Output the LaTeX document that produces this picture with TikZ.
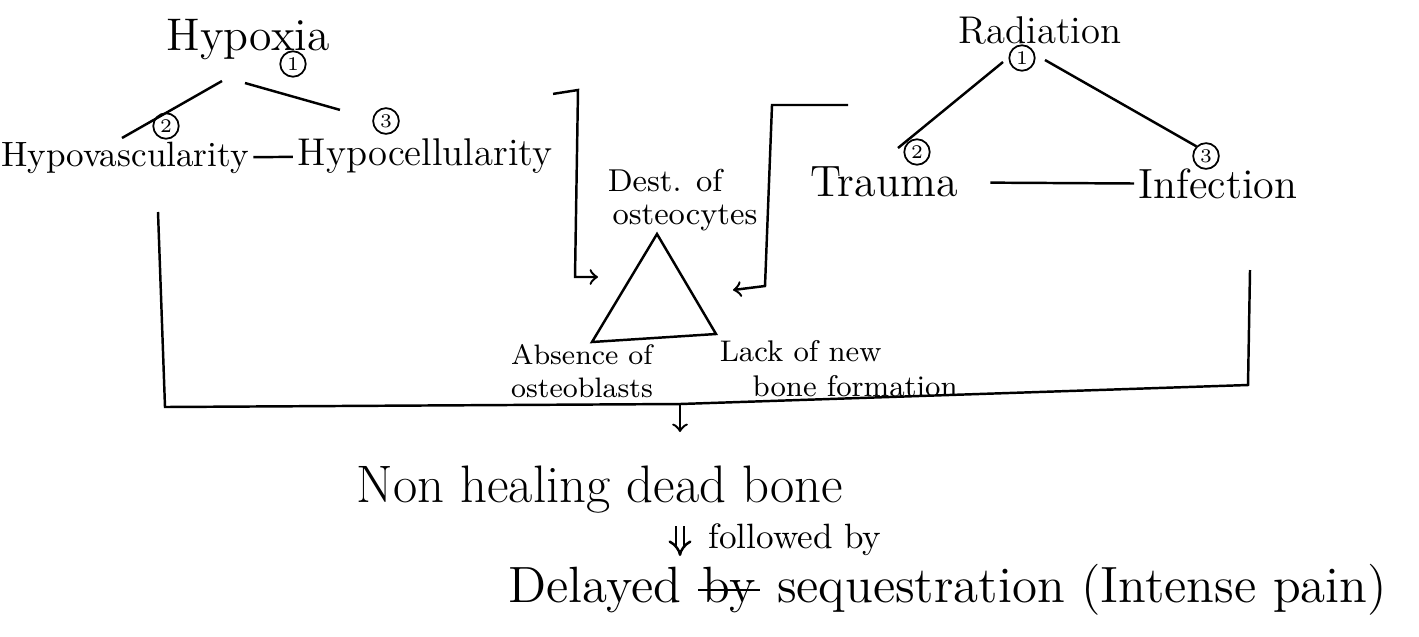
\documentclass[tikz,border=0pt]{standalone}
\usepackage{tikz}
\usetikzlibrary{positioning,arrows}

\begin{document}
\begin{tikzpicture}[x=0.01cm,y=-0.01cm,node distance=0.12cm,line width=0.7pt,
	head/.style={font=\fontsize{13}{15}\selectfont,inner sep=1pt},
	txt/.style={font=\fontsize{11}{12}\selectfont,inner sep=1pt},
	sml/.style={font=\fontsize{8.5}{10}\selectfont,align=left,inner sep=1pt},
	res/.style={font=\fontsize{14.5}{16}\selectfont,inner sep=1pt},
	num/.style={circle,draw,line width=0.5pt,inner sep=0.8pt,font=\fontsize{5.5}{5.5}\selectfont}]
	\useasboundingbox (0,0) rectangle (1419,636);
	
	% hypoxia side
	\node[head] (hypoxia) at (248,40)  {Hypoxia};
	\node[num]  (h1)      at (293,64)  {1};
	\node[txt,font=\fontsize{10}{12}\selectfont] (hvasc) at (125,158) {Hypovascularity};
	\node[num]  (h2)      at (166,126) {2};
	\node[txt]  (hcell)   at (425,156) {Hypocellularity};
	\node[num]  (h3)      at (386,121) {3};
	\draw ([shift={(-26,16)}]hypoxia.south) -- ([shift={(-44,12)}]h2.center);
	\draw ([shift={(-3,18)}]hypoxia.south) -- ([shift={(47,-24)}]hcell.north west);
	\draw (hvasc) -- (hcell);
	
	% radiation side
	\node[txt] (rad)    at (1040,30)  {Radiation};
	\node[num] (r1)     at (1022,58)  {1};
	\node[txt,font=\fontsize{12.5}{14}\selectfont] (trauma) at (884,182) {Trauma};
	\node[num] (r2)     at (917,152)  {2};
	\node[txt,font=\fontsize{12}{14}\selectfont] (infect) at (1218,184) {Infection};
	\node[num] (r3)     at (1206,156) {3};
	\draw ([shift={(-19,4)}]r1.center) -- ([shift={(-19,-4)}]r2.center);
	\draw ([shift={(23,2)}]r1.center) -- (r3.north west);
	\draw[shorten <=8pt] (trauma) -- (infect);
	
	% triangle
	\coordinate (ta) at (657,234);
	\coordinate (tl) at (592,342);
	\coordinate (tr) at (716,334);
	\draw (ta) -- (tl) -- (tr) -- cycle;
	\node[sml,font=\fontsize{9}{9.5}\selectfont,anchor=south west] (dest) at (603,236) {Dest. of\\\hspace*{0.15em}osteocytes};
	\node[sml,font=\fontsize{8}{9.5}\selectfont] (absent) at (582,371) {Absence of\\osteoblasts};
	\node[sml,anchor=north west] (lack) at (715,336) {Lack of new\\\hspace*{1.1em}bone formation};
	
	% brackets into the triangle
	\coordinate (lin) at (598,277);
	\coordinate (rin) at (733,290);
	\draw[->] ([shift={(-4,-40)}]hcell.north east) -- (578,90) -- (575,277) -- (lin);
	\draw[->] (848,105) -- (772,105) -- (765,286) -- (rin);
	
	% big bracket
	\coordinate (mid) at (680,404);
	\coordinate (down) at (680,432);
	\draw (158,212) -- (165,407) -- (mid) -- (1248,385) -- (1250,270);
	\draw[->] (mid) -- (down);
	
	% result
	\node[res,font=\fontsize{15}{17}\selectfont] (nonheal) at (600,490) {Non healing dead bone};
	\node[res] (del) at (595,590) {Delayed};
	\node[res] (by)  [right=of del] {by};
	\node[res] (seq) [right=of by]  {sequestration (Intense pain)};
	\draw (by.west) -- (by.east);
	\draw[double,double distance=1.5pt,-implies] (680,526) -- (680,556);
	\node[txt,font=\fontsize{10}{12}\selectfont] (follow) at (795,540) {followed by};
\end{tikzpicture}
\end{document}
